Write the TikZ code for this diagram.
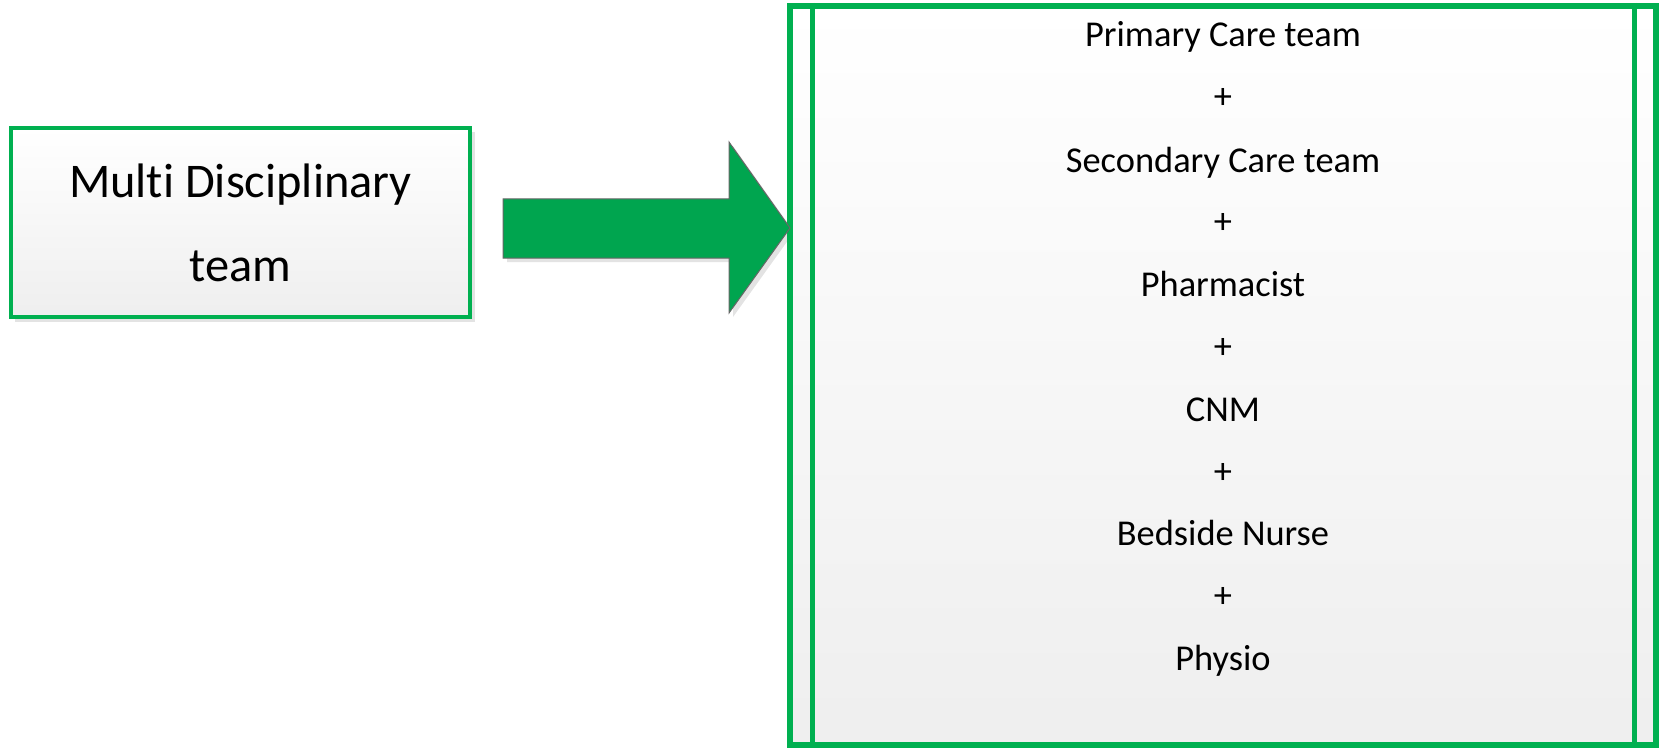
\documentclass[tikz,border=0pt]{standalone}
\usepackage{fontspec}
\setmainfont[Ligatures=NoCommon]{Carlito}
\usepackage{tikz}
\usetikzlibrary{calc}
\definecolor{boxgreen}{HTML}{00B050}
\definecolor{arrowgreen}{HTML}{00A54F}

\begin{document}
\begin{tikzpicture}[x=0.5pt, y=-0.5pt,
    greenbox/.style={rectangle, draw=boxgreen, top color=white, bottom color=gray!13, inner sep=0pt},
    member/.style={anchor=base, font=\fontsize{18.2}{20}\selectfont},
    boxshadow/.style={fill=gray!22, draw=none}]

    \useasboundingbox (0,0) rectangle (1661,749);

    % shadows first
    \fill[boxshadow] (15,132) rectangle (475,322);
    \fill[boxshadow] (507,203) -- (733,203) -- (733,146) -- (794,232) -- (733,317) -- (733,262) -- (507,262) -- cycle;

    \node[greenbox, line width=2pt, minimum width=229.5pt, minimum height=94.5pt, align=center,
          font=\fontsize{24.2}{42}\selectfont] (mdt) at (240.5,222.5) {Multi Disciplinary\\team};

    \node[greenbox, line width=3pt, minimum width=433pt, minimum height=369.5pt] (team) at (1223,375.5) {};
    \draw[boxgreen, line width=2.5pt] ([xshift=12.5pt]team.north west) -- ([xshift=12.5pt]team.south west);
    \draw[boxgreen, line width=2.5pt] ([xshift=-12.5pt]team.north east) -- ([xshift=-12.5pt]team.south east);

    % block arrow
    \draw[fill=arrowgreen, draw=black!60, line width=0.5pt, line join=miter]
        (503,199) -- (729,199) -- (729,142) -- (790,228) -- (729,313) -- (729,258) -- (503,258) -- cycle;

    \node[member] (t1) at (1223,47) {Primary Care team};
    \node[member] (p1) at (1223,109) {+};
    \node[member] (t2) at (1223,172) {Secondary Care team};
    \node[member] (p2) at (1223,234) {+};
    \node[member] (t3) at (1223,296) {Pharmacist};
    \node[member] (p3) at (1223,358) {+};
    \node[member] (t4) at (1223,421) {CNM};
    \node[member] (p4) at (1223,483) {+};
    \node[member] (t5) at (1223,545) {Bedside Nurse};
    \node[member] (p5) at (1223,607) {+};
    \node[member] (t6) at (1223,670) {Physio};

\end{tikzpicture}
\end{document}
